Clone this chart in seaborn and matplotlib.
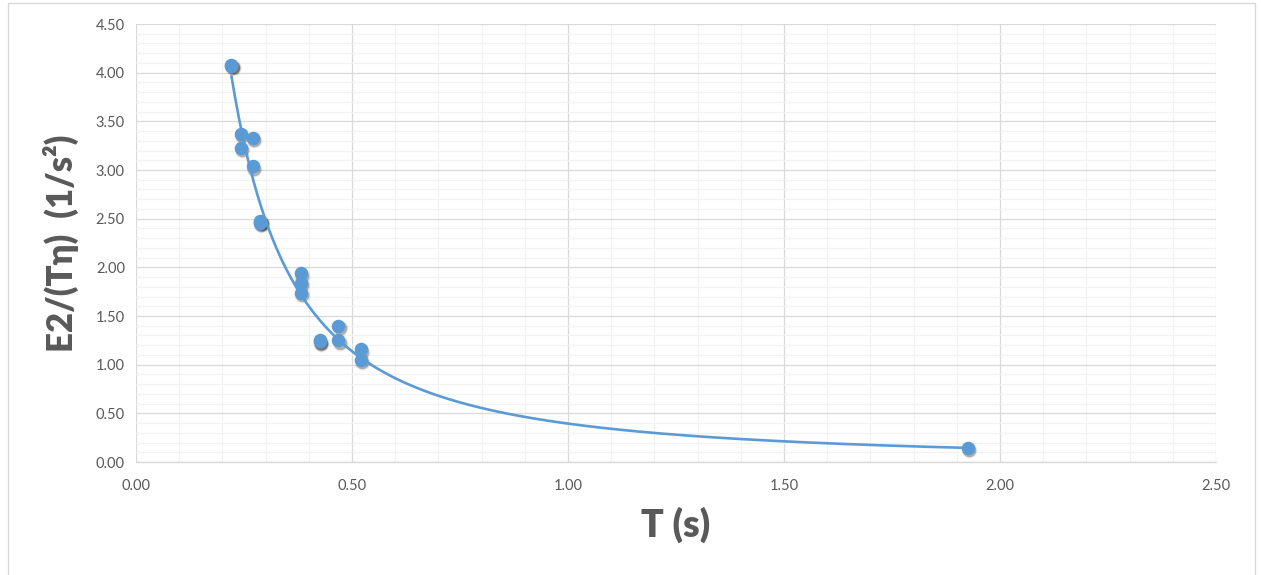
import numpy as np
import pandas as pd
import matplotlib
matplotlib.use("Agg")
import matplotlib.pyplot as plt
import matplotlib.transforms as mtransforms
from matplotlib.ticker import MultipleLocator, FormatStrFormatter
import seaborn as sns

# ---- data ----
T_values = [0.221, 0.221, 0.243, 0.243, 0.271, 0.271, 0.288, 0.286, 0.288,
            0.382, 0.382, 0.382, 0.426, 0.426, 0.468, 0.468, 0.521, 0.521, 1.926]
E_values = [4.08, 4.07, 3.37, 3.23, 3.33, 3.04, 2.47, 2.46, 2.48,
            1.94, 1.84, 1.74, 1.25, 1.24, 1.40, 1.25, 1.16, 1.05, 0.144]
x_ticks = [0.0, 0.5, 1.0, 1.5, 2.0, 2.5]
y_ticks = [0.0, 0.5, 1.0, 1.5, 2.0, 2.5, 3.0, 3.5, 4.0, 4.5]
x_label = "T (s)"
y_label = "E2/(Tη)  (1/s²)"

df = pd.DataFrame({"T": T_values, "E": E_values})

sns.set_theme(style="white")
plt.rcParams['font.family'] = ['Lato', 'DejaVu Sans']

W, H = 1261, 575
fig = plt.figure(figsize=(W / 100, H / 100), dpi=100)
ax = fig.add_axes([136 / W, 1 - 462 / H, (1216 - 136) / W, (462 - 24) / H])

blue = "#5B9BD5"
grey_txt = "#595959"

# power-law trendline (Excel style), fitted in log space
b, ln_a = np.polyfit(np.log(df["T"]), np.log(df["E"]), 1)
tt = np.linspace(df["T"].min(), df["T"].max(), 400)
trend = pd.DataFrame({"T": tt, "E": np.exp(ln_a) * tt ** b})

# soft shadow for markers
shadow_tr = mtransforms.offset_copy(ax.transData, fig=fig, x=1.0, y=-1.8, units='points')
ax.scatter(df["T"], df["E"], s=130, color="black", alpha=0.08, linewidths=0,
           transform=shadow_tr, zorder=2)
ax.scatter(df["T"], df["E"], s=95, color="black", alpha=0.26, linewidths=0,
           transform=shadow_tr, zorder=2)

sns.lineplot(data=trend, x="T", y="E", ax=ax, color=blue, linewidth=1.9, zorder=3)
sns.scatterplot(data=df, x="T", y="E", ax=ax, color=blue, s=95, linewidth=0, zorder=4)

ax.set_xlim(0, 2.5)
ax.set_ylim(0, 4.5)
ax.xaxis.set_minor_locator(MultipleLocator(0.1))
ax.yaxis.set_minor_locator(MultipleLocator(0.1))
ax.set_xticks(x_ticks)
ax.set_yticks(y_ticks)
ax.xaxis.set_major_formatter(FormatStrFormatter("%.2f"))
ax.yaxis.set_major_formatter(FormatStrFormatter("%.2f"))

ax.grid(which="major", color="#D9D9D9", linewidth=0.9, zorder=0)
ax.grid(which="minor", color="#F2F2F2", linewidth=0.9, zorder=0)
ax.set_axisbelow(True)

for s in ["top", "right", "left"]:
    ax.spines[s].set_visible(False)
ax.spines["bottom"].set_color("#D9D9D9")
ax.spines["bottom"].set_linewidth(1.0)

ax.tick_params(axis="x", which="major", length=6, width=0.9, color="#D9D9D9",
               labelsize=10.5, labelcolor=grey_txt, pad=6, direction="out")
ax.tick_params(axis="x", which="minor", length=0)
ax.tick_params(axis="y", which="both", length=0, labelsize=10.5, labelcolor=grey_txt, pad=8)

ax.set_xlabel(x_label, fontsize=27, fontweight="heavy", color=grey_txt, labelpad=10)
ax.set_ylabel(y_label, fontsize=25, fontweight="heavy", color=grey_txt, labelpad=12)

# chart-area frame (left, top, right)
fx0, fy0, fx1 = 8 / W, 1 - 3 / H, 1255 / W
fig.add_artist(plt.Line2D([fx0, fx0, fx1, fx1], [0, fy0, fy0, 0], color="#D9D9D9",
                          linewidth=1.0, transform=fig.transFigure))

fig.savefig("out.png", dpi=100, facecolor="white")
